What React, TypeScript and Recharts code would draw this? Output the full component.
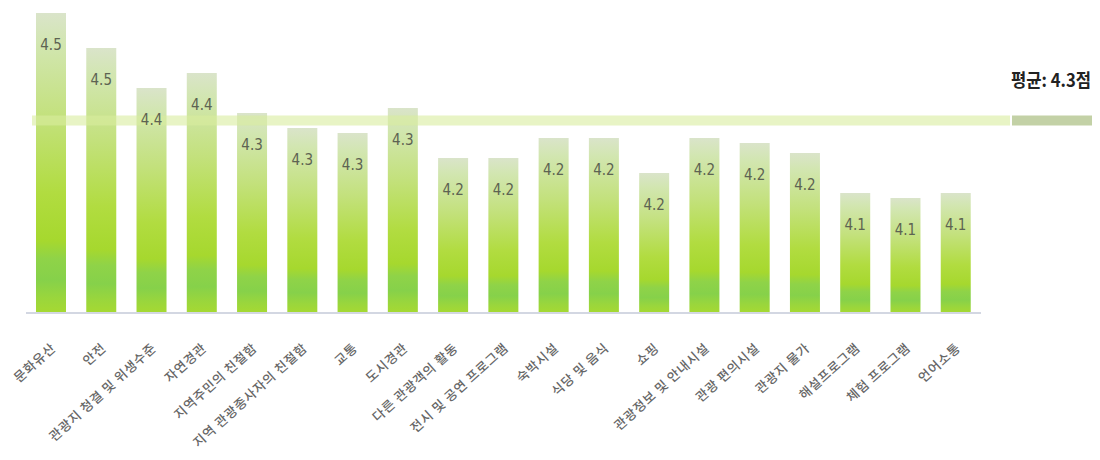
import { Bar, BarChart, LabelList, ReferenceLine, XAxis, YAxis } from "recharts";

const categories = [
  "문화유산",
  "안전",
  "관광지 청결 및 위생수준",
  "자연경관",
  "지역주민의 친절함",
  "지역 관광종사자의 친절함",
  "교통",
  "도시경관",
  "다른 관광객의 활동",
  "전시 및 공연 프로그램",
  "숙박시설",
  "식당 및 음식",
  "쇼핑",
  "관광정보 및 안내시설",
  "관광 편의시설",
  "관광지 물가",
  "해설프로그램",
  "체험 프로그램",
  "언어소통",
];

// bar heights; the printed labels are rounded in the source
const scores = [4.5, 4.43, 4.35, 4.38, 4.3, 4.27, 4.26, 4.31, 4.21, 4.21, 4.25, 4.25, 4.18, 4.25, 4.24, 4.22, 4.14, 4.13, 4.14];
const scoreLabels = ["4.5", "4.5", "4.4", "4.4", "4.3", "4.3", "4.3", "4.3", "4.2", "4.2", "4.2", "4.2", "4.2", "4.2", "4.2", "4.2", "4.1", "4.1", "4.1"];

const average = 4.285;
const averageLabel = "평균: 4.3점";

const data = categories.map((name, i) => ({ name, score: scores[i], label: scoreLabels[i] }));

const CategoryTick = (props: any) => {
  const { x, payload } = props;
  return (
    <g transform={`translate(${x + 2},${337})`}>
      <text
        x={0}
        y={0}
        textAnchor="end"
        dominantBaseline="central"
        transform="rotate(-42)"
        fill="#666"
        fontSize={13}
        letterSpacing={0.8}
        fontFamily="'Noto Sans CJK KR', sans-serif"
        fontWeight={500}
      >
        {payload.value}
      </text>
    </g>
  );
};

const ValueLabel = (props: any) => {
  const { x, y, width, value } = props;
  return (
    <text
      x={x + width / 2}
      y={y + 32}
      textAnchor="middle"
      dominantBaseline="central"
      fill="#5d6352"
      fontSize={15}
      fontFamily="'Liberation Sans Narrow', 'DejaVu Sans Condensed', sans-serif"
    >
      {value}
    </text>
  );
};

const AverageBand = (props: any) => {
  const { x1, x2, y1 } = props;
  return (
    <g>
      <rect x={x1 + 6} y={y1 - 5} width={x2 + 29 - (x1 + 6)} height={10} fill="#d9ec9f" fillOpacity={0.6} />
      <rect x={x2 + 31} y={y1 - 5} width={80} height={10} fill="#c3d1a6" />
      <text
        x={x2 + 30}
        y={y1 - 42}
        dominantBaseline="central"
        fill="#222"
        fontSize={18}
        fontWeight={700}
        fontFamily="'Noto Sans CJK KR', sans-serif"
        textLength={80}
        lengthAdjust="spacingAndGlyphs"
      >
        {averageLabel}
      </text>
    </g>
  );
};

export default function App() {
  return (
    <div style={{ width: 1092, height: 452 }}>
      <BarChart
        width={1092}
        height={452}
        data={data}
        margin={{ top: 5, right: 119, left: 18, bottom: 117 }}
        style={{ overflow: "visible" }}
      >
        <defs>
          <linearGradient id="barFill" x1="0" y1="0" x2="0" y2="1">
            <stop offset="0%" stopColor="#dae4ca" />
            <stop offset="10%" stopColor="#d2e6b1" />
            <stop offset="35%" stopColor="#c3e17c" />
            <stop offset="60%" stopColor="#b1dc40" />
            <stop offset="76%" stopColor="#a6d82e" />
            <stop offset="82%" stopColor="#8fd348" />
            <stop offset="89%" stopColor="#86d14a" />
            <stop offset="95%" stopColor="#9ad63c" />
            <stop offset="100%" stopColor="#a6d932" />
          </linearGradient>
        </defs>
        <XAxis
          dataKey="name"
          interval={0}
          height={30}
          tickLine={false}
          axisLine={{ stroke: "#d3d7e2", strokeWidth: 2 }}
          tick={<CategoryTick />}
        />
        <YAxis hide domain={[3.9, 4.5]} />
        <Bar dataKey="score" fill="url(#barFill)" barSize={30} isAnimationActive={false}>
          <LabelList dataKey="label" content={<ValueLabel />} />
        </Bar>
        <ReferenceLine y={average} shape={<AverageBand />} />
      </BarChart>
    </div>
  );
}
